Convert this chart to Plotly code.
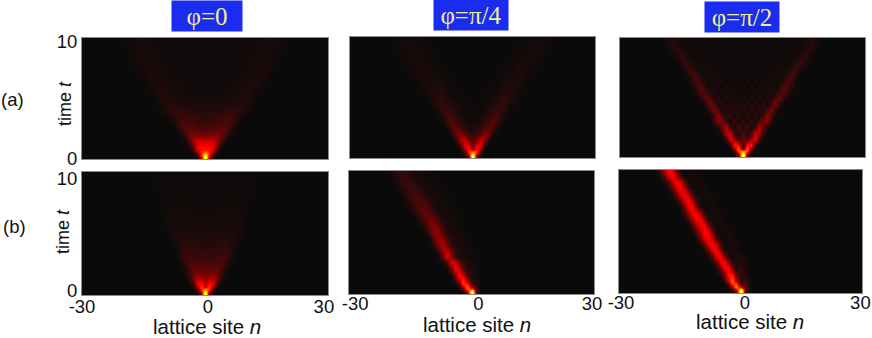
import plotly.graph_objects as go

sites = list(range(-30, 31))
titles = ["φ=0", "φ=π/4", "φ=π/2"]
row_labels = ["(a)", "(b)"]
x_tick_text = ["-30", "0", "30"]
y_tick_text = ["0", "10"]
# the labels sit slightly off the true values in the reference
b0_tick_sites = [-30, 0.7, 29]
b1_tick_sites = [-28.5, 1.7, 29.5]
b2_tick_sites = [-29.5, 1.1, 29.6]
a_tick_times = [0.08, 9.75]
b_tick_times = [0.4, 9.5]

coarse_t = [0, .25, .5, .75, 1, 1.5, 2, 2.5, 3, 3.5, 4, 5, 6, 7, 8, 9, 10]
fine_t = [0, .25, .5, .75, 1, 1.5, 2, 2.5, 3, 3.5, 4, 4.5, 5, 5.5, 6, 6.5, 7, 7.5, 8, 8.5, 9, 9.5, 10]

# (a) phi=0, values for sites 0,1,2,... (symmetric)
a0_half = [
    [100, 12],
    [88, 36, 5],
    [60, 42, 16, 1],
    [40, 40, 30, 6],
    [38, 38, 34, 12, 2],
    [30, 30, 30, 24, 8, 1],
    [16, 16, 17, 17, 14, 6, 1],
    [9, 9, 10, 11, 12, 11, 6, 1],
    [6, 6, 7, 8, 9, 9, 8, 4, 1],
    [5, 5, 5, 6, 6, 7, 7, 6, 3, 1],
    [4, 4, 4, 4, 4, 5, 5, 5, 5, 4, 2, 1],
    [2, 2, 2, 2, 2, 2, 2, 3, 3, 4, 4, 3, 1],
    [1, 1, 1, 1, 1, 1, 2, 2, 2, 2, 3, 3, 3, 2, 1],
    [1, 1, 1, 1, 1, 1, 1, 1, 1, 2, 2, 2, 2, 3, 3, 2, 1],
    [1, 1, 1, 1, 1, 1, 1, 1, 1, 1, 2, 2, 2, 2, 2, 2, 2, 1, 1],
    [1, 1, 1, 1, 1, 1, 1, 1, 1, 1, 1, 1, 2, 2, 2, 2, 2, 2, 1, 1],
    [1, 1, 1, 1, 1, 1, 1, 1, 1, 1, 1, 1, 1, 1, 2, 2, 2, 2, 1, 1, 1],
]

# (a) phi=pi/4
a1_half = [
    [100, 8],
    [92, 25, 2],
    [60, 42, 8],
    [20, 42, 20, 1],
    [14, 36, 32, 5],
    [9, 16, 30, 20, 3],
    [5, 6, 12, 20, 14, 3],
    [3, 3, 5, 9, 13, 10, 3],
    [2, 2, 3, 5, 8, 10, 7, 2],
    [1, 1, 2, 3, 5, 7, 8, 5, 2],
    [1, 1, 1, 2, 3, 5, 6, 6, 4, 1],
    [0, 0, 1, 1, 1, 2, 3, 4, 5, 4, 3, 1],
    [0, 0, 0, 0, 1, 1, 1, 2, 3, 3, 3, 3, 2, 1],
    [0, 0, 0, 0, 0, 0, 1, 1, 1, 2, 2, 3, 3, 2, 2, 1],
    [0, 0, 0, 0, 0, 0, 0, 0, 1, 1, 1, 2, 2, 2, 2, 2, 1, 1],
    [0, 0, 0, 0, 0, 0, 0, 0, 0, 0, 1, 1, 1, 2, 2, 2, 2, 2, 1, 1],
    [0, 0, 0, 0, 0, 0, 0, 0, 0, 0, 0, 0, 1, 1, 1, 2, 2, 2, 2, 1, 1],
]

# (a) phi=pi/2
a2_half = [
    [100, 4],
    [92, 18, 1],
    [58, 48, 5],
    [10, 50, 22, 1],
    [5, 38, 42, 5],
    [14, 6, 22, 34, 6],
    [9, 3, 8, 28, 26, 5],
    [3, 8, 2, 6, 26, 14, 2],
    [6, 1, 7, 1, 6, 16, 20, 6, 1],
    [1, 6, 1, 6, 2, 6, 20, 8, 1],
    [5, 1, 5, 1, 5, 2, 6, 18, 7, 1],
    [1, 4, 1, 4, 1, 5, 2, 6, 17, 6, 1],
    [4, 0, 4, 1, 4, 1, 4, 2, 8, 15, 5, 1],
    [0, 3, 0, 3, 1, 3, 1, 4, 2, 6, 12, 7, 1],
    [3, 0, 3, 0, 3, 0, 3, 1, 3, 2, 9, 10, 3, 1],
    [0, 3, 0, 3, 0, 3, 1, 3, 1, 3, 2, 10, 6, 1],
    [2, 0, 2, 0, 2, 0, 3, 0, 3, 1, 2, 3, 9, 4, 1],
    [0, 2, 0, 2, 0, 2, 0, 3, 1, 3, 1, 2, 3, 8, 3, 1],
    [2, 0, 2, 0, 2, 0, 2, 0, 2, 0, 2, 1, 2, 3, 7, 3, 1],
    [0, 2, 0, 2, 0, 2, 0, 2, 0, 2, 0, 2, 1, 2, 3, 6, 3, 1],
    [1, 0, 2, 0, 2, 0, 2, 0, 2, 0, 2, 0, 2, 1, 2, 3, 5, 3, 1],
    [0, 1, 0, 2, 0, 2, 0, 2, 0, 2, 0, 2, 0, 2, 1, 2, 3, 4, 2, 1],
    [0, 0, 0, 0, 1, 0, 1, 0, 1, 0, 1, 0, 1, 0, 1, 1, 1, 3, 3, 1],
]

# (b) phi=0, symmetric
b0_half = [
    [100, 6],
    [88, 25, 2],
    [55, 45, 10, 1],
    [25, 44, 28, 3],
    [24, 38, 34, 10, 1],
    [18, 20, 22, 15, 5, 1],
    [13, 13, 14, 13, 8, 2],
    [9, 9, 9, 10, 9, 5, 1],
    [7, 7, 7, 7, 8, 7, 3, 1],
    [5, 5, 6, 6, 6, 6, 4, 1],
    [4, 4, 4, 4, 5, 5, 4, 2, 1],
    [3, 3, 3, 3, 3, 3, 3, 3, 2, 1],
    [2, 2, 2, 2, 2, 2, 2, 2, 2, 2, 1],
    [1, 1, 1, 2, 2, 2, 2, 2, 2, 1, 1],
    [1, 1, 1, 1, 1, 1, 1, 1, 1, 1, 1, 1],
    [1, 1, 1, 1, 1, 1, 1, 1, 1, 1, 1, 1, 1],
    [1, 1, 1, 1, 1, 1, 1, 1, 1, 1, 1, 1, 1, 1],
]

# (b) phi=pi/4: first site of each row, then the row's values
b1_start = [-1, -2, -3, -3, -4, -5, -6, -7, -8, -9, -10, -10, -11, -12, -13, -14, -15, -16, -17, -18, -19, -20, -21]
b1_rows = [
    [8, 100, 8],
    [3, 30, 90, 15, 2],
    [2, 18, 55, 30, 8, 1],
    [6, 40, 48, 12, 6, 1],
    [3, 22, 48, 30, 5, 4, 1],
    [1, 14, 40, 34, 8, 3, 2, 1],
    [1, 12, 36, 32, 10, 4, 3, 2, 1],
    [2, 8, 30, 34, 14, 5, 3, 2, 1],
    [3, 14, 32, 22, 7, 3, 2, 2, 1, 1],
    [2, 8, 22, 28, 14, 5, 3, 2, 2, 1, 1],
    [2, 8, 20, 25, 14, 5, 3, 2, 2, 1, 1],
    [4, 14, 22, 20, 9, 4, 3, 2, 2, 1, 1],
    [4, 13, 20, 18, 9, 4, 3, 2, 2, 1, 1],
    [3, 9, 16, 18, 12, 5, 3, 2, 2, 1, 1],
    [2, 7, 13, 16, 12, 6, 3, 2, 2, 2, 1, 1],
    [2, 6, 11, 13, 11, 6, 3, 2, 2, 2, 1, 1],
    [2, 5, 9, 11, 10, 6, 3, 2, 2, 2, 1, 1],
    [2, 4, 8, 9, 9, 6, 3, 2, 2, 2, 1, 1],
    [2, 4, 7, 8, 8, 5, 3, 2, 2, 2, 1, 1, 1],
    [1, 3, 5, 7, 7, 5, 3, 2, 2, 2, 1, 1, 1],
    [1, 3, 5, 6, 6, 4, 3, 2, 2, 2, 1, 1, 1],
    [1, 2, 4, 6, 6, 4, 3, 2, 2, 1, 1, 1],
    [1, 2, 4, 5, 5, 4, 3, 2, 2, 1, 1, 1],
]

# (b) phi=pi/2
b2_start = [-1, -2, -3, -3, -4, -5, -6, -7, -8, -9, -10, -11, -12, -13, -14, -15, -15, -16, -17, -18, -19, -20, -21]
b2_rows = [
    [5, 100, 5],
    [2, 25, 92, 15, 1],
    [3, 25, 58, 30, 12, 1],
    [8, 45, 50, 8, 12, 2],
    [4, 30, 55, 25, 3, 8, 2],
    [2, 14, 40, 42, 14, 5, 3, 1],
    [2, 14, 36, 38, 16, 2, 5, 3],
    [2, 12, 32, 38, 22, 4, 2, 4, 2],
    [2, 12, 34, 38, 18, 3, 1, 3, 3, 1],
    [1, 14, 32, 38, 20, 3, 2, 3, 2],
    [2, 14, 32, 38, 30, 10, 1, 2, 3, 2],
    [2, 14, 32, 38, 28, 9, 1, 1, 3, 2, 1],
    [1, 8, 24, 38, 36, 16, 2, 1, 2, 2, 1],
    [1, 8, 24, 36, 36, 18, 3, 1, 2, 3, 1],
    [1, 8, 24, 37, 37, 20, 3, 1, 2, 3, 1],
    [1, 6, 20, 36, 38, 24, 5, 1, 2, 2, 1],
    [2, 14, 34, 38, 18, 3, 2, 1, 2, 2, 1],
    [2, 12, 30, 38, 28, 9, 2, 1, 2, 2, 1],
    [2, 12, 30, 38, 30, 10, 1, 1, 2, 2, 1],
    [2, 12, 30, 38, 28, 9, 1, 1, 2, 2, 1],
    [1, 9, 26, 38, 34, 13, 2, 1, 2, 2, 1],
    [2, 12, 30, 38, 26, 8, 1, 1, 2, 2, 1],
    [1, 9, 26, 38, 36, 16, 3, 1, 2, 2, 1],
]


def mirrored(rows):
    out = []
    for r in rows:
        cells = dict(enumerate(r))
        out.append([cells.get(abs(n), 0) for n in sites])
    return out


def placed(starts, rows):
    out = []
    for s, r in zip(starts, rows):
        cells = {s + i: v for i, v in enumerate(r)}
        out.append([cells.get(n, 0) for n in sites])
    return out


W, H = 872, 338
panels = [
    (82, 328, 38, 159, coarse_t, mirrored(a0_half), [], a_tick_times, 0),
    (349.5, 595, 37, 158, coarse_t, mirrored(a1_half), [], [], 0),
    (620, 865, 38, 157, fine_t, mirrored(a2_half), [], [], 0),
    (82, 328, 172, 295, coarse_t, mirrored(b0_half), b0_tick_sites, b_tick_times, -5),
    (349, 594, 171, 294, fine_t, placed(b1_start, b1_rows), b1_tick_sites, [], -7),
    (619, 862, 170, 293, fine_t, placed(b2_start, b2_rows), b2_tick_sites, [], -7),
]
hot = [
    [0, "#0a0a0a"], [0.02, "#160a0a"], [0.05, "#2e0a0a"], [0.2, "#900000"],
    [0.375, "#ff0000"], [0.75, "#ffff00"], [1, "#ffffff"],
]
FONT = "Liberation Sans"
fig = go.Figure()
layout = {}
for i, (x0, x1, y0, y1, t, z, xt, yt, off) in enumerate(panels):
    k = "" if i == 0 else str(i + 1)
    fig.add_trace(go.Heatmap(
        x=sites, y=t, z=z, zmin=0, zmax=100, colorscale=hot, zsmooth="best",
        showscale=False, xaxis="x" + k, yaxis="y" + k))
    layout["xaxis" + k] = dict(
        domain=[x0 / W, x1 / W], range=[-30, 30], anchor="y" + k, automargin=False,
        tickmode="array", tickvals=xt, ticktext=x_tick_text if xt else [], ticks="",
        ticklabelstandoff=off,
        showgrid=False, zeroline=False, showline=True, mirror=True,
        linecolor="#8a8a8a", linewidth=1, tickfont=dict(family=FONT, size=18.5, color="#111"))
    layout["yaxis" + k] = dict(
        domain=[1 - y1 / H, 1 - y0 / H], range=[0, 10], anchor="x" + k, automargin=False,
        tickmode="array", tickvals=yt, ticktext=y_tick_text if yt else [], ticks="",
        showgrid=False, zeroline=False, showline=True, mirror=True,
        linecolor="#8a8a8a", linewidth=1, tickfont=dict(family=FONT, size=18.5, color="#111"))

annotations = []


def note(px, py, text, **kw):
    annotations.append(dict(
        x=px / W, y=1 - py / H, xref="paper", yref="paper", text=text, showarrow=False,
        xanchor="center", yanchor="middle", **kw))


for (cx, cy, w), text in zip([(207, 16, 68), (471, 15, 72), (742, 17, 72)], titles):
    note(cx, cy, text, width=w, height=28, bgcolor="#1a2cf0", align="center", valign="middle",
         font=dict(family="Liberation Serif", size=25, color="#f2f08a"))
for (px, py), text in zip([(12, 100), (14, 226)], row_labels):
    note(px, py, text, font=dict(family=FONT, size=18.5, color="#111"))
for px, py in [(207, 326), (477, 324), (750, 321)]:
    note(px, py, "lattice site <i>n</i>", font=dict(family=FONT, size=20.5, color="#111"))
for px, py in [(65, 104), (63, 232)]:
    note(px, py, "time <i>t</i>", textangle=-90, font=dict(family=FONT, size=18, color="#111"))

fig.update_layout(
    width=W, height=H, margin=dict(l=0, r=0, t=0, b=0),
    paper_bgcolor="white", plot_bgcolor="#0a0a0a", annotations=annotations, **layout)
fig.write_html("out.html", post_script="document.body.style.margin='0';",
               config={"displayModeBar": False})
